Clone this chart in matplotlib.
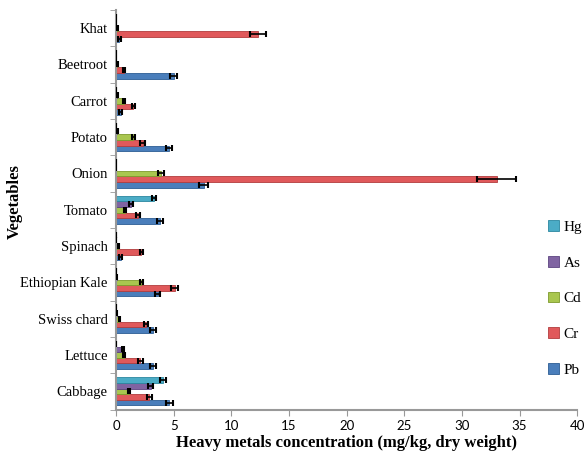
import numpy as np
import matplotlib
matplotlib.use("Agg")
import matplotlib.pyplot as plt

# vegetables, bottom to top as drawn
vegetables = ["Cabbage", "Lettuce", "Swiss chard", "Ethiopian Kale", "Spinach",
              "Tomato", "Onion", "Potato", "Carrot", "Beetroot", "Khat"]
metals = ["Pb", "Cr", "Cd", "As", "Hg"]

pb = [4.6, 3.2, 3.2, 3.6, 0.4, 3.8, 7.6, 4.6, 0.4, 5.0, 0.3]
cr = [2.9, 2.1, 2.6, 5.1, 2.2, 1.9, 33.0, 2.3, 1.5, 0.7, 12.3]
cd = [1.1, 0.7, 0.3, 2.2, 0.2, 0.8, 3.9, 1.5, 0.7, 0.1, 0.15]
as_ = [3.0, 0.6, 0.05, 0.05, 0.0, 1.3, 0.0, 0.1, 0.1, 0.0, 0.0]
hg = [4.1, 0.0, 0.0, 0.0, 0.0, 3.3, 0.0, 0.0, 0.0, 0.0, 0.0]

pb_err = [0.3, 0.25, 0.25, 0.25, 0.1, 0.25, 0.4, 0.25, 0.1, 0.3, 0.1]
cr_err = [0.2, 0.2, 0.2, 0.3, 0.15, 0.2, 1.7, 0.2, 0.15, 0.1, 0.7]
cd_err = [0.1, 0.1, 0.05, 0.15, 0.05, 0.1, 0.25, 0.15, 0.1, 0.05, 0.05]
as_err = [0.25, 0.1, 0.05, 0.05, 0.0, 0.15, 0.0, 0.05, 0.05, 0.0, 0.0]
hg_err = [0.25, 0.0, 0.0, 0.0, 0.0, 0.2, 0.0, 0.0, 0.0, 0.0, 0.0]

series = [pb, cr, cd, as_, hg]
errors = [pb_err, cr_err, cd_err, as_err, hg_err]
colors = ["#4a7ebb", "#e0595b", "#a9c64f", "#8064a2", "#4bacc6"]
edges = ["#2c5d94", "#b23c3e", "#7d9a2c", "#5c4480", "#2b87a0"]

fig = plt.figure(figsize=(5.86, 4.54), dpi=100)
ax = fig.add_axes([0.198, 0.098, 0.787, 0.88])

y = np.arange(len(vegetables))
h = 0.155

for i, (vals, err) in enumerate(zip(series, errors)):
    pos = y - 2 * h + i * h
    ax.barh(pos, vals, height=h, color=colors[i], edgecolor=edges[i],
            linewidth=0.6, label=metals[i], zorder=2)
    ax.errorbar(vals, pos, xerr=err, fmt="none", ecolor="black",
                elinewidth=1.2, capsize=2.5, capthick=1.5, zorder=3)

ax.set_xlim(0, 40)
ax.set_ylim(-0.5, len(vegetables) - 0.5)
ax.set_xticks(np.arange(0, 41, 5))
ax.set_yticks(y)
ax.set_yticklabels(vegetables, fontfamily="Liberation Serif", fontsize=10.5)
ax.set_yticks(np.arange(-0.5, len(vegetables), 1), minor=True)
ax.tick_params(axis="y", which="major", length=0, pad=6)
ax.tick_params(axis="y", which="minor", length=4, color="#999999")
ax.tick_params(axis="x", length=4, color="#999999", labelsize=9.5)
for lab in ax.get_xticklabels():
    lab.set_fontfamily("Lato")

for s in ["top", "right"]:
    ax.spines[s].set_visible(False)
for s in ["left", "bottom"]:
    ax.spines[s].set_color("#999999")
    ax.spines[s].set_linewidth(1.5)

ax.set_xlabel("Heavy metals concentration (mg/kg, dry weight)",
              fontfamily="Liberation Serif", fontweight="bold", fontsize=12,
              labelpad=2)
ax.set_ylabel("Vegetables", fontfamily="Liberation Serif", fontweight="bold",
              fontsize=12)
ax.yaxis.set_label_coords(-0.202, 0.52)

handles, labels = ax.get_legend_handles_labels()
leg = ax.legend(handles[::-1], labels[::-1], loc="center left",
                bbox_to_anchor=(0.907, 0.278), frameon=False,
                prop={"family": "Liberation Serif", "size": 11},
                handlelength=0.7, handleheight=0.7, handletextpad=0.3,
                labelspacing=1.44)

fig.savefig("out.png", dpi=100)
